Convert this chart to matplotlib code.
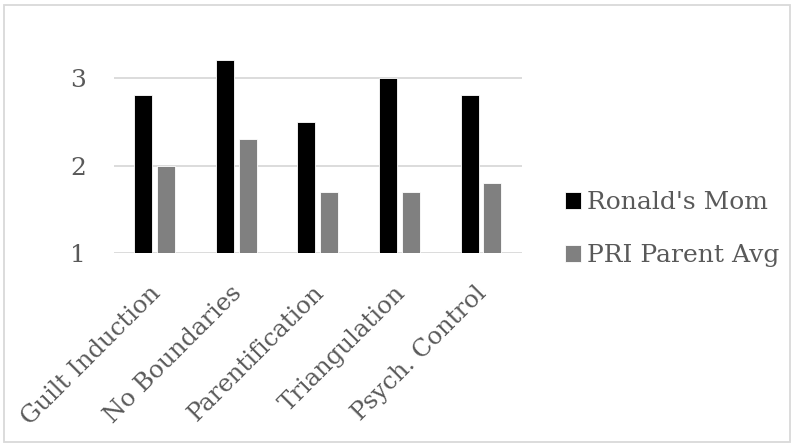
import matplotlib
matplotlib.use("Agg")
import matplotlib.pyplot as plt
from matplotlib.patches import Rectangle
from matplotlib.transforms import ScaledTranslation
import numpy as np

categories = ["Guilt Induction", "No Boundaries", "Parentification", "Triangulation", "Psych. Control"]
ronalds_mom = [2.8, 3.2, 2.5, 3.0, 2.8]
pri_parent_avg = [2.0, 2.3, 1.7, 1.7, 1.8]
series_names = ["Ronald's Mom", "PRI Parent Avg"]
yticks = [1, 2, 3]

plt.rcParams['font.family'] = ['DejaVu Serif', 'Liberation Serif']
text_color = '#595959'

fig = plt.figure(figsize=(7.94, 4.47), dpi=100)
ax = fig.add_axes([0.1436, 0.4329, 0.5135, 0.4911])

x = np.arange(len(categories))
w = 0.22
ax.bar(x - 0.14, ronalds_mom, w, bottom=0, color='#000000', edgecolor='white', linewidth=0.6,
       label=series_names[0], zorder=3)
ax.bar(x + 0.14, pri_parent_avg, w, bottom=0, color='#808080', edgecolor='white', linewidth=0.6,
       label=series_names[1], zorder=3)

ax.set_xlim(-0.5, len(categories) - 0.5)
ax.set_ylim(1, 3.5)
ax.set_yticks(yticks)
ax.set_yticklabels([str(t) for t in yticks])
ax.grid(axis='y', color='#d9d9d9', linewidth=1.3, zorder=0)
for s in ax.spines.values():
    s.set_visible(False)
ax.tick_params(axis='both', length=0, colors=text_color, labelsize=18)
ax.tick_params(axis='y', pad=20)
ax.set_xticks(x)
ax.set_xticklabels(categories, rotation=45, ha='right', rotation_mode='anchor', fontsize=17.5)
ax.tick_params(axis='x', pad=20)
off = ScaledTranslation(-6/100, 0, fig.dpi_scale_trans)
for lbl in ax.get_xticklabels():
    lbl.set_transform(lbl.get_transform() + off)

leg = ax.legend(loc='center left', bbox_to_anchor=(1.05, 0.11), frameon=False, fontsize=18,
                handlelength=0.65, handleheight=0.65, handletextpad=0.25, labelspacing=1.2)
for t in leg.get_texts():
    t.set_color(text_color)

fig.patches.append(Rectangle((4/794, 5/447), 786/794, 437/447, transform=fig.transFigure,
                             fill=False, edgecolor='#d9d9d9', linewidth=1.3))

fig.savefig("out.png", dpi=100)
